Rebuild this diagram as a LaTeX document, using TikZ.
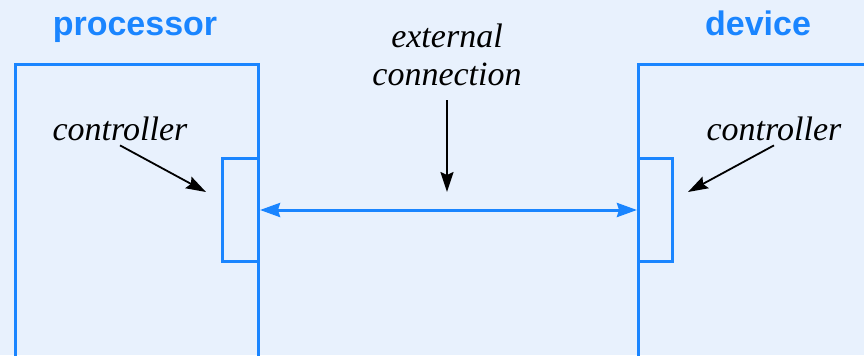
\documentclass[tikz,border=0pt]{standalone}
\usepackage{fontspec}
\setmainfont{Liberation Serif}
\setsansfont{Liberation Sans}
\usepackage{tikz}
\usetikzlibrary{positioning,arrows.meta}
\definecolor{linkblue}{HTML}{1A85FF}
\definecolor{pagebg}{HTML}{E8F1FD}
\tikzset{
  unit/.style={draw=linkblue, line width=1.5pt, anchor=north west, inner sep=0pt},
  ctrlbox/.style={draw=linkblue, line width=1.5pt, anchor=north west, inner sep=0pt, minimum width=18pt, minimum height=51.5pt},
  title/.style={text=linkblue, anchor=base, font=\sffamily\bfseries\fontsize{17}{19}\selectfont},
  note/.style={font=\itshape\fontsize{17}{19}\selectfont, align=center, inner sep=1pt},
  ptr/.style={-{Stealth[length=10pt, width=6.5pt, inset=1.5pt]}, line width=0.9pt},
  link/.style={{Stealth[length=10pt, width=7pt, inset=1pt]}-{Stealth[length=10pt, width=7pt, inset=1pt]}, draw=linkblue, line width=1.5pt}
}
\begin{document}
\begin{tikzpicture}[x=0.5pt, y=-0.5pt]
  \fill[pagebg] (0,0) rectangle (864,355);
  \useasboundingbox (0,0) rectangle (864,355);
  \clip (0,0) rectangle (864,355);
  % the two units, both run off the page
  \node[unit, minimum width=121.5pt, minimum height=180pt] (proc) at (14,63) {};
  \node[unit, minimum width=150pt, minimum height=180pt] (dev) at (637,63) {};
  \node[ctrlbox] (pctrl) at (221,157) {};
  \node[ctrlbox, minimum width=17pt] (dctrl) at (637,157) {};
  \node[title] (proclbl) at (135,35) {processor};
  \node[title] (devlbl) at (758,35) {device};
  \node[note] (pctrllbl) at (120,129) {controller};
  \node[note] (dctrllbl) at (774,129) {controller};
  \node[note] (extlbl) at (447,55) {external\\connection};
  \coordinate (ptip) at (206,192);
  \coordinate (dtip) at (688,192);
  \coordinate (etip) at (447,192);
  \draw[link] (pctrl.east) -- (dctrl.west);
  \draw[ptr] (pctrllbl.south) ++(0,2) -- (ptip);
  \draw[ptr] (dctrllbl.south) ++(0,2) -- (dtip);
  \draw[ptr] (extlbl.south) ++(0,12) -- (etip);
\end{tikzpicture}
\end{document}
